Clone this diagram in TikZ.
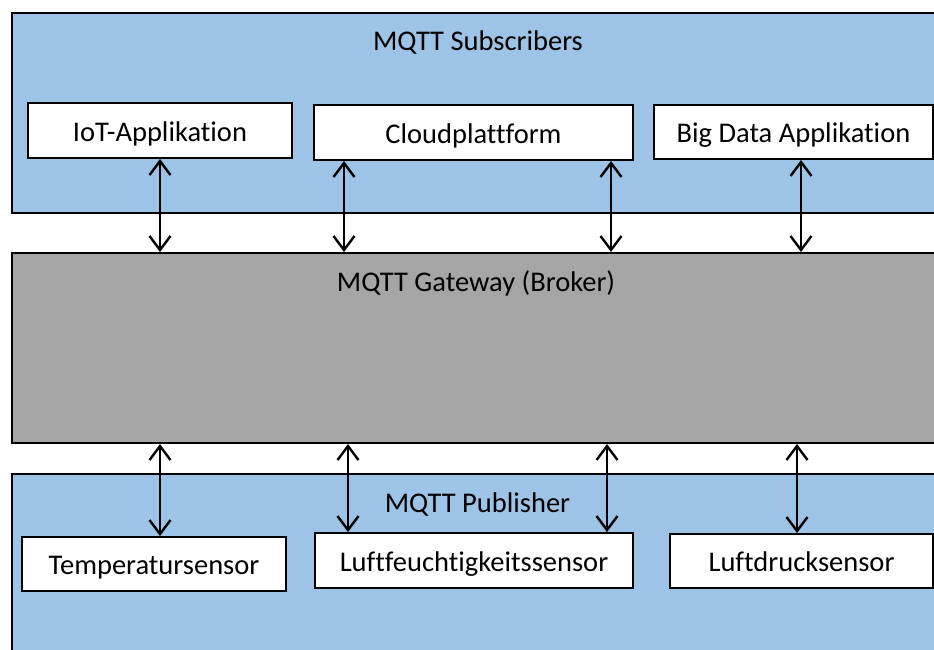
\documentclass[tikz,border=0pt]{standalone}
\usepackage{fontspec}
\setmainfont{Carlito}[Ligatures=CommonOff]
\usetikzlibrary{arrows.meta,positioning}
\definecolor{layer}{HTML}{9DC3E6}
\definecolor{broker}{HTML}{A5A5A5}
\tikzset{lane/.style={draw,line width=2pt,fill=layer,anchor=north west,minimum width=935pt,inner sep=0pt},client/.style={draw,line width=2pt,fill=white,inner sep=0pt,text height=24pt,text depth=3pt,font=\fontsize{28.5}{34}\selectfont},title/.style={font=\fontsize{28.5}{34}\selectfont},link/.style={{Straight Barb[length=14pt,width=21pt]}-{Straight Barb[length=14pt,width=21pt]},line width=2.4pt}}

\begin{document}
\begin{tikzpicture}[x=1pt,y=-1pt]
\useasboundingbox (0,0) rectangle (934,649);\clip (0,0) rectangle (934,649);
% three layers, cut off at the right edge
\node[lane,minimum height=200pt] (subs) at (11,12) {};\node[lane,fill=broker,minimum height=190pt] (gw) at (11,252) {};\node[lane,minimum height=230pt] (pubs) at (11,473) {};
\node[title] (substitle) at (478,42.5) {MQTT Subscribers};\node[title] (gwtitle) at (476,283.5) {MQTT Gateway (Broker)};\node[title] (pubtitle) at (477.5,504) {MQTT Publisher};
% subscribers
\node[client,minimum width=264pt,minimum height=55pt] (iot) at (160,130.5) {IoT-Applikation};\node[client,minimum width=319pt,minimum height=55pt] (cloud) at (473.5,132.5) {Cloudplattform};\node[client,minimum width=279pt,minimum height=54pt] (bigdata) at (793.5,132) {Big Data Applikation};
% publishers
\node[client,minimum width=264pt,minimum height=54pt] (temp) at (154,564) {Temperatursensor};\node[client,minimum width=318pt,minimum height=55pt] (feucht) at (474,560.5) {Luftfeuchtigkeitssensor};\node[client,minimum width=263pt,minimum height=54pt] (druck) at (801.5,561) {Luftdrucksensor};
\draw[link] (iot.south) -- (iot.south |- gw.north);\draw[link] ([xshift=-129.5pt]cloud.south) -- ([xshift=-129.5pt]cloud.south |- gw.north);\draw[link] ([xshift=137.5pt]cloud.south) -- ([xshift=137.5pt]cloud.south |- gw.north);\draw[link] ([xshift=7.5pt]bigdata.south) -- ([xshift=7.5pt]bigdata.south |- gw.north);
\draw[link] ([xshift=6pt]temp.north |- gw.south) -- ([xshift=6pt]temp.north);\draw[link] ([xshift=-126pt]feucht.north |- gw.south) -- ([xshift=-126pt]feucht.north);\draw[link] ([xshift=133pt]feucht.north |- gw.south) -- ([xshift=133pt]feucht.north);\draw[link] ([xshift=-4.5pt]druck.north |- gw.south) -- ([xshift=-4.5pt]druck.north);
\end{tikzpicture}
\end{document}
